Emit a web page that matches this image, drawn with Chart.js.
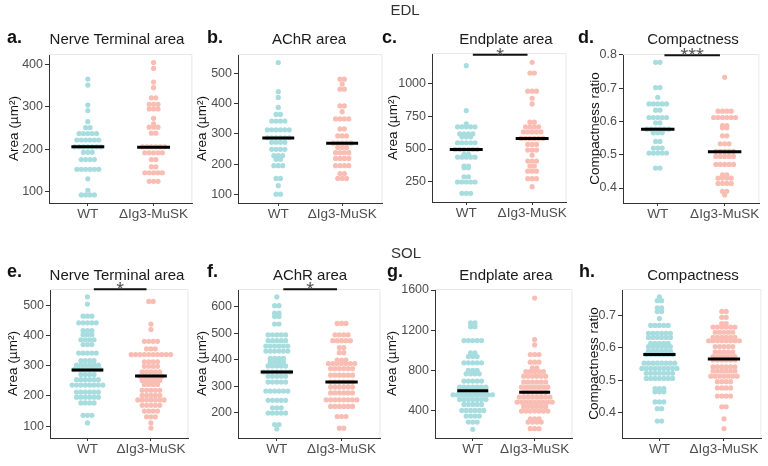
<!DOCTYPE html>
<html><head><meta charset="utf-8">
<script src="https://cdn.jsdelivr.net/npm/chart.js@4.4.0/dist/chart.umd.min.js"></script>
<style>
html,body{margin:0;padding:0;background:#fff;}
body{width:768px;height:466px;position:relative;overflow:hidden;font-family:"Liberation Sans",Arial,sans-serif;}
canvas{position:absolute;}
.t{position:absolute;white-space:nowrap;transform:translate(-50%,-50%);color:#1a1a1a;font-size:15px;z-index:2;}
.l{position:absolute;white-space:nowrap;transform:translateY(-50%);font-weight:bold;font-size:18px;color:#111;z-index:2;}
.h{position:absolute;white-space:nowrap;transform:translate(-50%,-50%);color:#333;font-size:15px;z-index:2;}
</style></head><body>
<script>
const categories = ['WT', 'ΔIg3-MuSK'];
const sectionTitles = ['EDL', 'SOL'];

// a. EDL Nerve Terminal area
const ntEDL_WT = [365,351,304,291,265,251,251,237,237,237,237,237,222,222,222,222,222,222,206,206,206,206,206,206,206,193,193,193,176,176,176,176,153,153,153,153,153,153,131,104,93,93,93,93];
const ntEDL_KO = [404,390,358,345,321,321,306,306,306,295,295,295,273,260,252,252,252,238,238,206,206,206,206,206,206,192,192,192,192,192,176,176,159,159,145,145,145,145,145,125,125,125];
const ntEDL_means = [206,205];
const ntEDL_ticks = [100,200,300,400];

// b. EDL AChR area
const achEDL_WT = [535,439,420,387,364,364,342,342,342,342,313,313,313,313,313,313,287,287,287,287,287,287,272,272,272,272,249,249,249,249,228,228,228,216,216,195,195,195,153,153,129,101,101];
const achEDL_KO = [480,480,464,447,447,392,392,373,349,349,349,349,316,316,293,293,293,269,269,269,269,269,255,255,255,238,238,238,238,219,219,219,219,195,195,195,195,169,169,153,153,153];
const achEDL_means = [286,269];
const achEDL_ticks = [100,200,300,400,500];

// c. EDL Endplate area
const epEDL_WT = [1137,794,692,670,670,670,670,670,616,616,616,616,593,593,593,548,548,548,548,548,497,497,497,497,497,497,459,459,438,438,438,438,438,370,370,357,357,288,288,248,248,248,248,248,161,161,161];
const epEDL_KO = [1163,1081,1081,942,942,942,888,845,705,705,670,670,670,670,631,631,631,631,631,581,581,581,581,581,581,535,535,535,492,492,492,453,408,408,408,370,370,331,331,331,273,273,273,212];
const epEDL_means = [497,581];
const epEDL_ticks = [250,500,750,1000];

// d. EDL Compactness
const cpEDL_WT = [0.778,0.778,0.702,0.702,0.673,0.653,0.653,0.653,0.653,0.653,0.634,0.634,0.612,0.612,0.612,0.612,0.612,0.596,0.596,0.577,0.577,0.577,0.577,0.577,0.577,0.566,0.566,0.566,0.54,0.54,0.52,0.52,0.52,0.505,0.505,0.505,0.505,0.505,0.46,0.46];
const cpEDL_KO = [0.733,0.631,0.631,0.631,0.631,0.612,0.612,0.612,0.612,0.612,0.612,0.588,0.588,0.581,0.581,0.557,0.557,0.533,0.533,0.533,0.51,0.51,0.51,0.51,0.51,0.495,0.495,0.495,0.495,0.495,0.471,0.471,0.471,0.471,0.471,0.44,0.44,0.43,0.43,0.43,0.43,0.414,0.414,0.414,0.414,0.39,0.39,0.379];
const cpEDL_means = [0.577,0.509];
const cpEDL_ticks = [0.4,0.5,0.6,0.7,0.8];

// e. SOL Nerve Terminal area
const ntSOL_WT = [528,504,464,464,464,442,442,442,442,442,416,416,416,403,403,403,386,386,386,386,370,370,370,342,342,342,342,342,317,317,317,317,302,302,302,302,302,302,287,287,287,287,287,287,287,271,271,271,271,254,254,254,254,254,254,236,236,236,236,236,236,236,236,213,213,213,213,213,213,196,196,196,196,196,196,177,177,177,177,136,136,136,111];
const ntSOL_KO = [513,513,438,420,381,381,381,381,356,356,356,337,337,337,337,337,337,337,337,337,337,313,313,313,313,298,298,298,298,280,280,280,280,280,265,265,265,265,265,265,251,251,251,251,251,238,238,238,238,219,219,219,219,219,202,202,202,202,202,187,187,187,187,187,187,187,169,169,169,169,169,150,150,150,150,131,131,131,111,94];
const ntSOL_means = [286,266];
const ntSOL_ticks = [100,200,300,400,500];

// f. SOL AChR area
const achSOL_WT = [637,604,604,576,576,563,563,535,535,494,494,494,494,494,472,472,472,472,472,452,452,452,452,452,452,433,433,433,433,433,433,405,405,405,405,392,392,392,392,377,377,377,377,377,354,354,354,354,354,354,354,338,338,338,338,338,316,316,316,316,316,282,282,282,282,282,282,247,247,247,247,247,219,219,219,199,199,199,199,199,156,156,139];
const achSOL_KO = [537,537,537,494,494,494,494,472,472,472,472,472,446,446,427,427,399,399,399,386,386,386,386,386,386,386,367,367,367,367,367,367,342,342,342,342,342,342,316,316,316,316,316,316,297,297,297,297,297,297,275,275,275,275,275,275,249,249,249,249,249,249,249,249,224,224,224,224,224,224,186,186,186,142,142];
const achSOL_means = [354,316];
const achSOL_ticks = [200,300,400,500,600];

// g. SOL Endplate area
const epSOL_WT = [1272,1272,1235,1235,1096,1096,1096,1096,1096,973,973,937,937,937,874,874,874,874,874,798,798,798,765,765,765,765,692,692,692,692,692,632,632,632,632,632,632,632,596,596,596,596,596,596,596,556,556,556,556,556,556,556,556,556,556,509,509,509,509,509,509,509,460,460,460,460,460,400,400,400,400,400,400,344,344,344,344,284,284,284,211];
const epSOL_KO = [1520,1106,1053,957,957,957,881,881,881,824,824,788,788,788,788,788,741,741,741,741,741,741,682,682,682,682,682,682,632,632,632,632,632,632,632,582,582,582,582,582,582,533,533,533,533,533,533,533,533,483,483,483,483,483,483,483,483,483,440,440,440,440,440,440,393,393,393,393,393,393,393,317,317,317,284,284,284,284,218,218,218];
const epSOL_means = [596,582];
const epSOL_ticks = [400,800,1200,1600];

// h. SOL Compactness
const cpSOL_WT = [0.757,0.745,0.745,0.723,0.723,0.712,0.712,0.69,0.669,0.669,0.669,0.669,0.669,0.645,0.645,0.645,0.645,0.645,0.645,0.632,0.632,0.632,0.632,0.632,0.632,0.614,0.614,0.614,0.614,0.614,0.604,0.604,0.604,0.604,0.604,0.604,0.591,0.591,0.591,0.591,0.591,0.591,0.58,0.58,0.58,0.58,0.58,0.58,0.58,0.553,0.553,0.553,0.553,0.553,0.553,0.553,0.553,0.537,0.537,0.537,0.537,0.537,0.537,0.537,0.537,0.537,0.522,0.522,0.522,0.522,0.522,0.522,0.522,0.506,0.506,0.506,0.506,0.506,0.506,0.506,0.475,0.475,0.475,0.465,0.465,0.465,0.434,0.434,0.434,0.413,0.413,0.375,0.375];
const cpSOL_KO = [0.712,0.712,0.694,0.694,0.675,0.675,0.664,0.664,0.664,0.664,0.664,0.664,0.648,0.648,0.648,0.648,0.648,0.632,0.632,0.632,0.632,0.632,0.632,0.622,0.622,0.622,0.622,0.622,0.622,0.622,0.622,0.604,0.604,0.604,0.604,0.604,0.587,0.587,0.587,0.587,0.587,0.573,0.573,0.573,0.573,0.573,0.573,0.563,0.563,0.563,0.563,0.563,0.563,0.542,0.542,0.542,0.542,0.542,0.542,0.529,0.529,0.529,0.529,0.529,0.529,0.513,0.513,0.513,0.513,0.513,0.513,0.513,0.496,0.496,0.496,0.496,0.477,0.477,0.477,0.477,0.452,0.452,0.452,0.452,0.419,0.419,0.382,0.352];
const cpSOL_means = [0.580,0.566];
const cpSOL_ticks = [0.4,0.5,0.6,0.7];

const panelTitles = ['Nerve Terminal area','AChR area','Endplate area','Compactness','Nerve Terminal area','AChR area','Endplate area','Compactness'];
const panelLetters = ['a.','b.','c.','d.','e.','f.','g.','h.'];
const yTitles = ['Area (µm²)','Area (µm²)','Area (µm²)','Compactness ratio','Area (µm²)','Area (µm²)','Area (µm²)','Compactness ratio'];
const sigLabels = [null,null,'*','***','*','*',null,null];

const panels = [
  {wt:ntEDL_WT, ko:ntEDL_KO, means:ntEDL_means, ticks:ntEDL_ticks},
  {wt:achEDL_WT, ko:achEDL_KO, means:achEDL_means, ticks:achEDL_ticks},
  {wt:epEDL_WT, ko:epEDL_KO, means:epEDL_means, ticks:epEDL_ticks},
  {wt:cpEDL_WT, ko:cpEDL_KO, means:cpEDL_means, ticks:cpEDL_ticks},
  {wt:ntSOL_WT, ko:ntSOL_KO, means:ntSOL_means, ticks:ntSOL_ticks},
  {wt:achSOL_WT, ko:achSOL_KO, means:achSOL_means, ticks:achSOL_ticks},
  {wt:epSOL_WT, ko:epSOL_KO, means:epSOL_means, ticks:epSOL_ticks},
  {wt:cpSOL_WT, ko:cpSOL_KO, means:cpSOL_means, ticks:cpSOL_ticks}
];

// layout (pixels / axis ranges)
const layoutCfg = [
  {cl:0,   ax:49,  pw:144, m:0.59, top:54,  yMin:74,    yMax:424,   sigY:null, tX:14,  ttlX:117, letX:7},
  {cl:190, ax:238, pw:145, m:0.63, top:54,  yMin:72,    yMax:563,   sigY:null, tX:202, ttlX:309, letX:207},
  {cl:380, ax:432, pw:135, m:0.52, top:53,  yMin:95,    yMax:1234,  sigY:1221, tX:393, ttlX:506, letX:382},
  {cl:565, ax:623, pw:137, m:0.52, top:54,  yMin:0.355, yMax:0.803, sigY:0.799,tX:595, ttlX:693, letX:578},
  {cl:0,   ax:50,  pw:139, m:0.59, top:289, yMin:61,    yMax:554,   sigY:553,  tX:13,  ttlX:117, letX:7},
  {cl:190, ax:238, pw:143, m:0.60, top:289, yMin:105,   yMax:667,   sigY:666,  tX:202, ttlX:310, letX:207},
  {cl:380, ax:435, pw:138, m:0.61, top:289, yMin:125,   yMax:1610,  sigY:null, tX:392, ttlX:506, letX:387},
  {cl:565, ax:622, pw:140, m:0.58, top:289, yMin:0.323, yMax:0.781, sigY:null, tX:594, ttlX:693, letX:579}
];
const PLOT_H = 149, PAD_TOP = 16, XAX_H = 25, DOT_STEP_PX = 4.4;
const FONT = '"Liberation Sans", Arial, sans-serif';

function addText(cls, txt, x, y) {
  const d = document.createElement('div');
  d.className = cls; d.textContent = txt;
  d.style.left = x + 'px'; d.style.top = y + 'px';
  document.body.appendChild(d);
}
addText('h', sectionTitles[0], 405, 9);
addText('h', sectionTitles[1], 406, 252);

function buildPoints(vals, cat, step) {
  const counts = new Map();
  vals.forEach(v => counts.set(v, (counts.get(v) || 0) + 1));
  const seen = new Map();
  return vals.map(v => {
    const n = counts.get(v), i = seen.get(v) || 0;
    seen.set(v, i + 1);
    return {x: cat + (i - (n - 1) / 2) * step, y: v};
  });
}

const framePlugin = {
  id: 'frame',
  beforeDatasetsDraw(chart) {
    const {ctx, chartArea: a} = chart;
    ctx.save();
    ctx.strokeStyle = '#e8e8e8'; ctx.lineWidth = 1;
    ctx.beginPath();
    ctx.moveTo(a.left, a.top + 0.5); ctx.lineTo(a.right - 0.5, a.top + 0.5); ctx.lineTo(a.right - 0.5, a.bottom);
    ctx.stroke();
    ctx.restore();
  }
};
const sigPlugin = {
  id: 'sig',
  afterDatasetsDraw(chart, args, opts) {
    if (!opts || !opts.label) return;
    const {ctx, scales: {x, y}} = chart;
    const x1 = x.getPixelForValue(1.1), x2 = x.getPixelForValue(1.93), yy = y.getPixelForValue(opts.y);
    ctx.save();
    ctx.strokeStyle = '#111'; ctx.lineWidth = 2;
    ctx.beginPath(); ctx.moveTo(x1, yy); ctx.lineTo(x2, yy); ctx.stroke();
    ctx.fillStyle = '#555'; ctx.font = '20px ' + FONT; ctx.textAlign = 'center'; ctx.textBaseline = 'alphabetic';
    ctx.fillText(opts.label, (x1 + x2) / 2, yy + 7);
    ctx.restore();
  }
};

panels.forEach((p, k) => {
  const L = layoutCfg[k];
  const ySW = L.ax - L.cl;
  const W = ySW + L.pw + 2;
  const H = PAD_TOP + PLOT_H + XAX_H;
  const cv = document.createElement('canvas');
  cv.width = W; cv.height = H;
  cv.style.left = L.cl + 'px'; cv.style.top = (L.top - PAD_TOP) + 'px';
  document.body.appendChild(cv);
  addText('t', panelTitles[k], L.ttlX, k < 4 ? 38 : 274);
  addText('l', panelLetters[k], L.letX, k < 4 ? 37 : 271);
  const ppu = L.pw / (1 + 2 * L.m);
  const step = DOT_STEP_PX / ppu;
  const dot = {pointRadius: 2.6, pointHoverRadius: 2.6, borderWidth: 0, pointBorderWidth: 0, order: 2};
  const meanLine = {type: 'line', borderColor: '#000', borderWidth: 3, pointRadius: 0, showLine: true, fill: false, order: 1};
  new Chart(cv, {
    type: 'scatter',
    data: {datasets: [
      Object.assign({data: buildPoints(p.wt, 1, step), backgroundColor: '#a8dde0'}, dot),
      Object.assign({data: buildPoints(p.ko, 2, step), backgroundColor: '#f9bdb3'}, dot),
      Object.assign({data: [{x: 0.75, y: p.means[0]}, {x: 1.25, y: p.means[0]}]}, meanLine),
      Object.assign({data: [{x: 1.75, y: p.means[1]}, {x: 2.25, y: p.means[1]}]}, meanLine)
    ]},
    options: {
      responsive: false, animation: false, events: [],
      layout: {padding: {top: PAD_TOP, left: 0, right: 2, bottom: 0}},
      plugins: {legend: {display: false}, tooltip: {enabled: false},
        sig: sigLabels[k] ? {label: sigLabels[k], y: L.sigY} : {}},
      scales: {
        x: {type: 'linear', min: 1 - L.m, max: 2 + L.m,
          afterBuildTicks: s => { s.ticks = [{value: 1}, {value: 2}]; },
          ticks: {callback: v => categories[v - 1], color: '#4d4d4d', font: {size: 13.5, family: FONT}, padding: 0, maxRotation: 0, autoSkip: false},
          grid: {drawOnChartArea: false, tickLength: 3, color: '#333'},
          border: {color: '#333', width: 1},
          afterFit: s => { s.height = XAX_H; s.paddingLeft = 0; s.paddingRight = 0; }
        },
        y: {type: 'linear', min: L.yMin, max: L.yMax,
          afterBuildTicks: s => { s.ticks = p.ticks.map(v => ({value: v})); },
          ticks: {callback: v => String(v), color: '#4d4d4d', font: {size: 12.5, family: FONT}, padding: 2, autoSkip: false},
          grid: {drawOnChartArea: false, tickLength: 4, color: '#333'},
          border: {color: '#333', width: 1},
          title: {display: true, text: yTitles[k], color: '#111', font: {size: 13.5, family: FONT}, padding: {top: L.tX - L.cl - 8, bottom: 0}},
          afterFit: s => { s.width = ySW; s.paddingTop = 0; s.paddingBottom = 0; }
        }
      }
    },
    plugins: [framePlugin, sigPlugin]
  });
});
</script>
</body></html>
